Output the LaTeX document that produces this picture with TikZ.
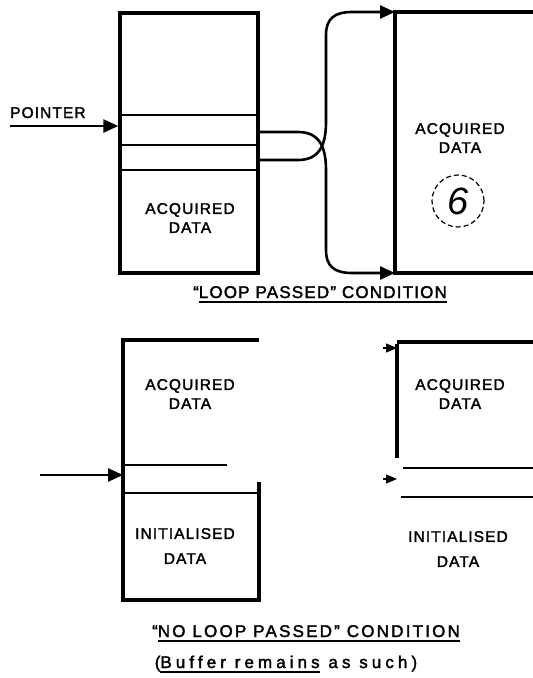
\documentclass[tikz,border=0pt]{standalone}
\usepackage{fontspec}
\setmainfont{Liberation Sans}
\newfontfamily\stencil[LetterSpace=7, FakeBold=2]{Liberation Sans}
\newfontfamily\stencilmid[LetterSpace=13, FakeBold=2]{Liberation Sans}
\newfontfamily\stencilwide[LetterSpace=24, FakeBold=2]{Liberation Sans}
\usetikzlibrary{arrows.meta, positioning, calc}

% thick underline for the captions
\newcommand{\ruled}[1]{\setbox0\hbox{#1}\rlap{\rule[-4.5pt]{\wd0}{1.6pt}}\box0\relax}

\begin{document}
\begin{tikzpicture}[
    x=1pt, y=-1pt,
    >={Triangle[length=15pt, width=13pt]},
    wall/.style={line width=3.4pt},
    slot/.style={line width=2.8pt},
    feed/.style={->, line width=2.6pt},
    stub/.style={-{Triangle[length=11pt, width=9pt]}, line width=1.2pt},
    label/.style={font=\stencil\fontsize{15.5}{19}\selectfont, align=center, inner sep=0pt},
    title/.style={font=\stencil\fontsize{17}{20}\selectfont, inner sep=0pt, anchor=base}
]
\useasboundingbox (0,0) rectangle (533,678);

% --------------------------------------------------------------------------
% "Loop passed" condition
% --------------------------------------------------------------------------
\node[draw, wall, minimum width=138pt, minimum height=260pt] (bufA) at (189,143) {};
\draw[slot] (bufA.west |- 0,115) -- (bufA.east |- 0,115);
\draw[slot] (bufA.west |- 0,145) -- (bufA.east |- 0,145);
\draw[slot] (bufA.west |- 0,170) -- (bufA.east |- 0,170);

\node[label, anchor=base west] (ptrlbl) at (10,118) {POINTER};
\coordinate (ptrA) at (10,126);
\draw[feed] (ptrA) -- (bufA.west |- ptrA);

\node[label] (acqA) at (190,218) {ACQUIRED\\DATA};

% second buffer, right edge off the page
\coordinate (bufBnw) at (395,12);
\coordinate (bufBsw) at (395,273);
\draw[wall] (533,12) -- (bufBnw) -- (bufBsw) -- (533,273);
\node[label] (acqB) at (460,138) {ACQUIRED\\DATA};
\node[draw, dashed, circle, line width=1.2pt, dash pattern=on 5pt off 3pt, minimum size=52pt, inner sep=0pt,
      font=\fontsize{38}{38}\selectfont\itshape] (mark) at (458,201) {6};

% pointer wrap-around
\coordinate (outA) at (bufA.east |- 0,132);
\coordinate (outB) at (bufA.east |- 0,160);
\draw[feed] (outA) -- (298,132) .. controls (318,132) and (326,145) .. (326,170)
    -- (326,250) .. controls (326,266) and (334,273) .. (352,273) -- (bufBsw);
\draw[feed] (outB) -- (298,160) .. controls (318,160) and (326,147) .. (326,122)
    -- (326,35) .. controls (326,19) and (334,12) .. (352,12) -- (bufBnw);

\node[title] (capA) at (320,298) {“\ruled{LOOP PASSED” CONDITION}};

% --------------------------------------------------------------------------
% "No loop passed" condition
% --------------------------------------------------------------------------
\coordinate (bufCnw) at (123,340);
\coordinate (bufCsw) at (123,600);
\draw[wall] (259,340) -- (bufCnw) -- (bufCsw) -- (259,600) -- (259,482);
\draw[slot] (bufCnw |- 0,465) -- (227,465);
\draw[slot] (bufCnw |- 0,493) -- (259,493);
\coordinate (ptrC) at (40,475);
\draw[feed] (ptrC) -- (bufCnw |- ptrC);

\node[label] (acqC) at (190,394) {ACQUIRED\\DATA};
\node[label, font=\stencil\fontsize{15.5}{25}\selectfont] (iniC) at (185,546) {INITIALISED\\DATA};

\coordinate (bufDnw) at (397,344);
\coordinate (bufDsw) at (397,458);
\draw[wall] (533,342) -- (bufDnw |- 0,342);
\draw[wall] (bufDnw) -- (bufDsw);
\draw[slot] (403,468) -- (533,468);
\draw[slot] (401,497) -- (533,497);
\coordinate (stubD) at (383,348);
\coordinate (stubE) at (383,479);
\draw[stub] (stubD) -- (bufDnw |- stubD);
\draw[stub] (stubE) -- (bufDnw |- stubE);

\node[label] (acqD) at (460,394) {ACQUIRED\\DATA};
\node[label, font=\stencil\fontsize{15.5}{25}\selectfont] (iniD) at (458,549) {INITIALISED\\DATA};

\node[title, font=\stencilmid\fontsize{17}{20}\selectfont] (capC) at (306,637) {“\ruled{NO LOOP PASSED” CONDITION}};
\node[title, font=\stencilwide\fontsize{17}{20}\selectfont] (capD) at (286,668) {(\ruled{Buffer remains} as such)};

\end{tikzpicture}
\end{document}
